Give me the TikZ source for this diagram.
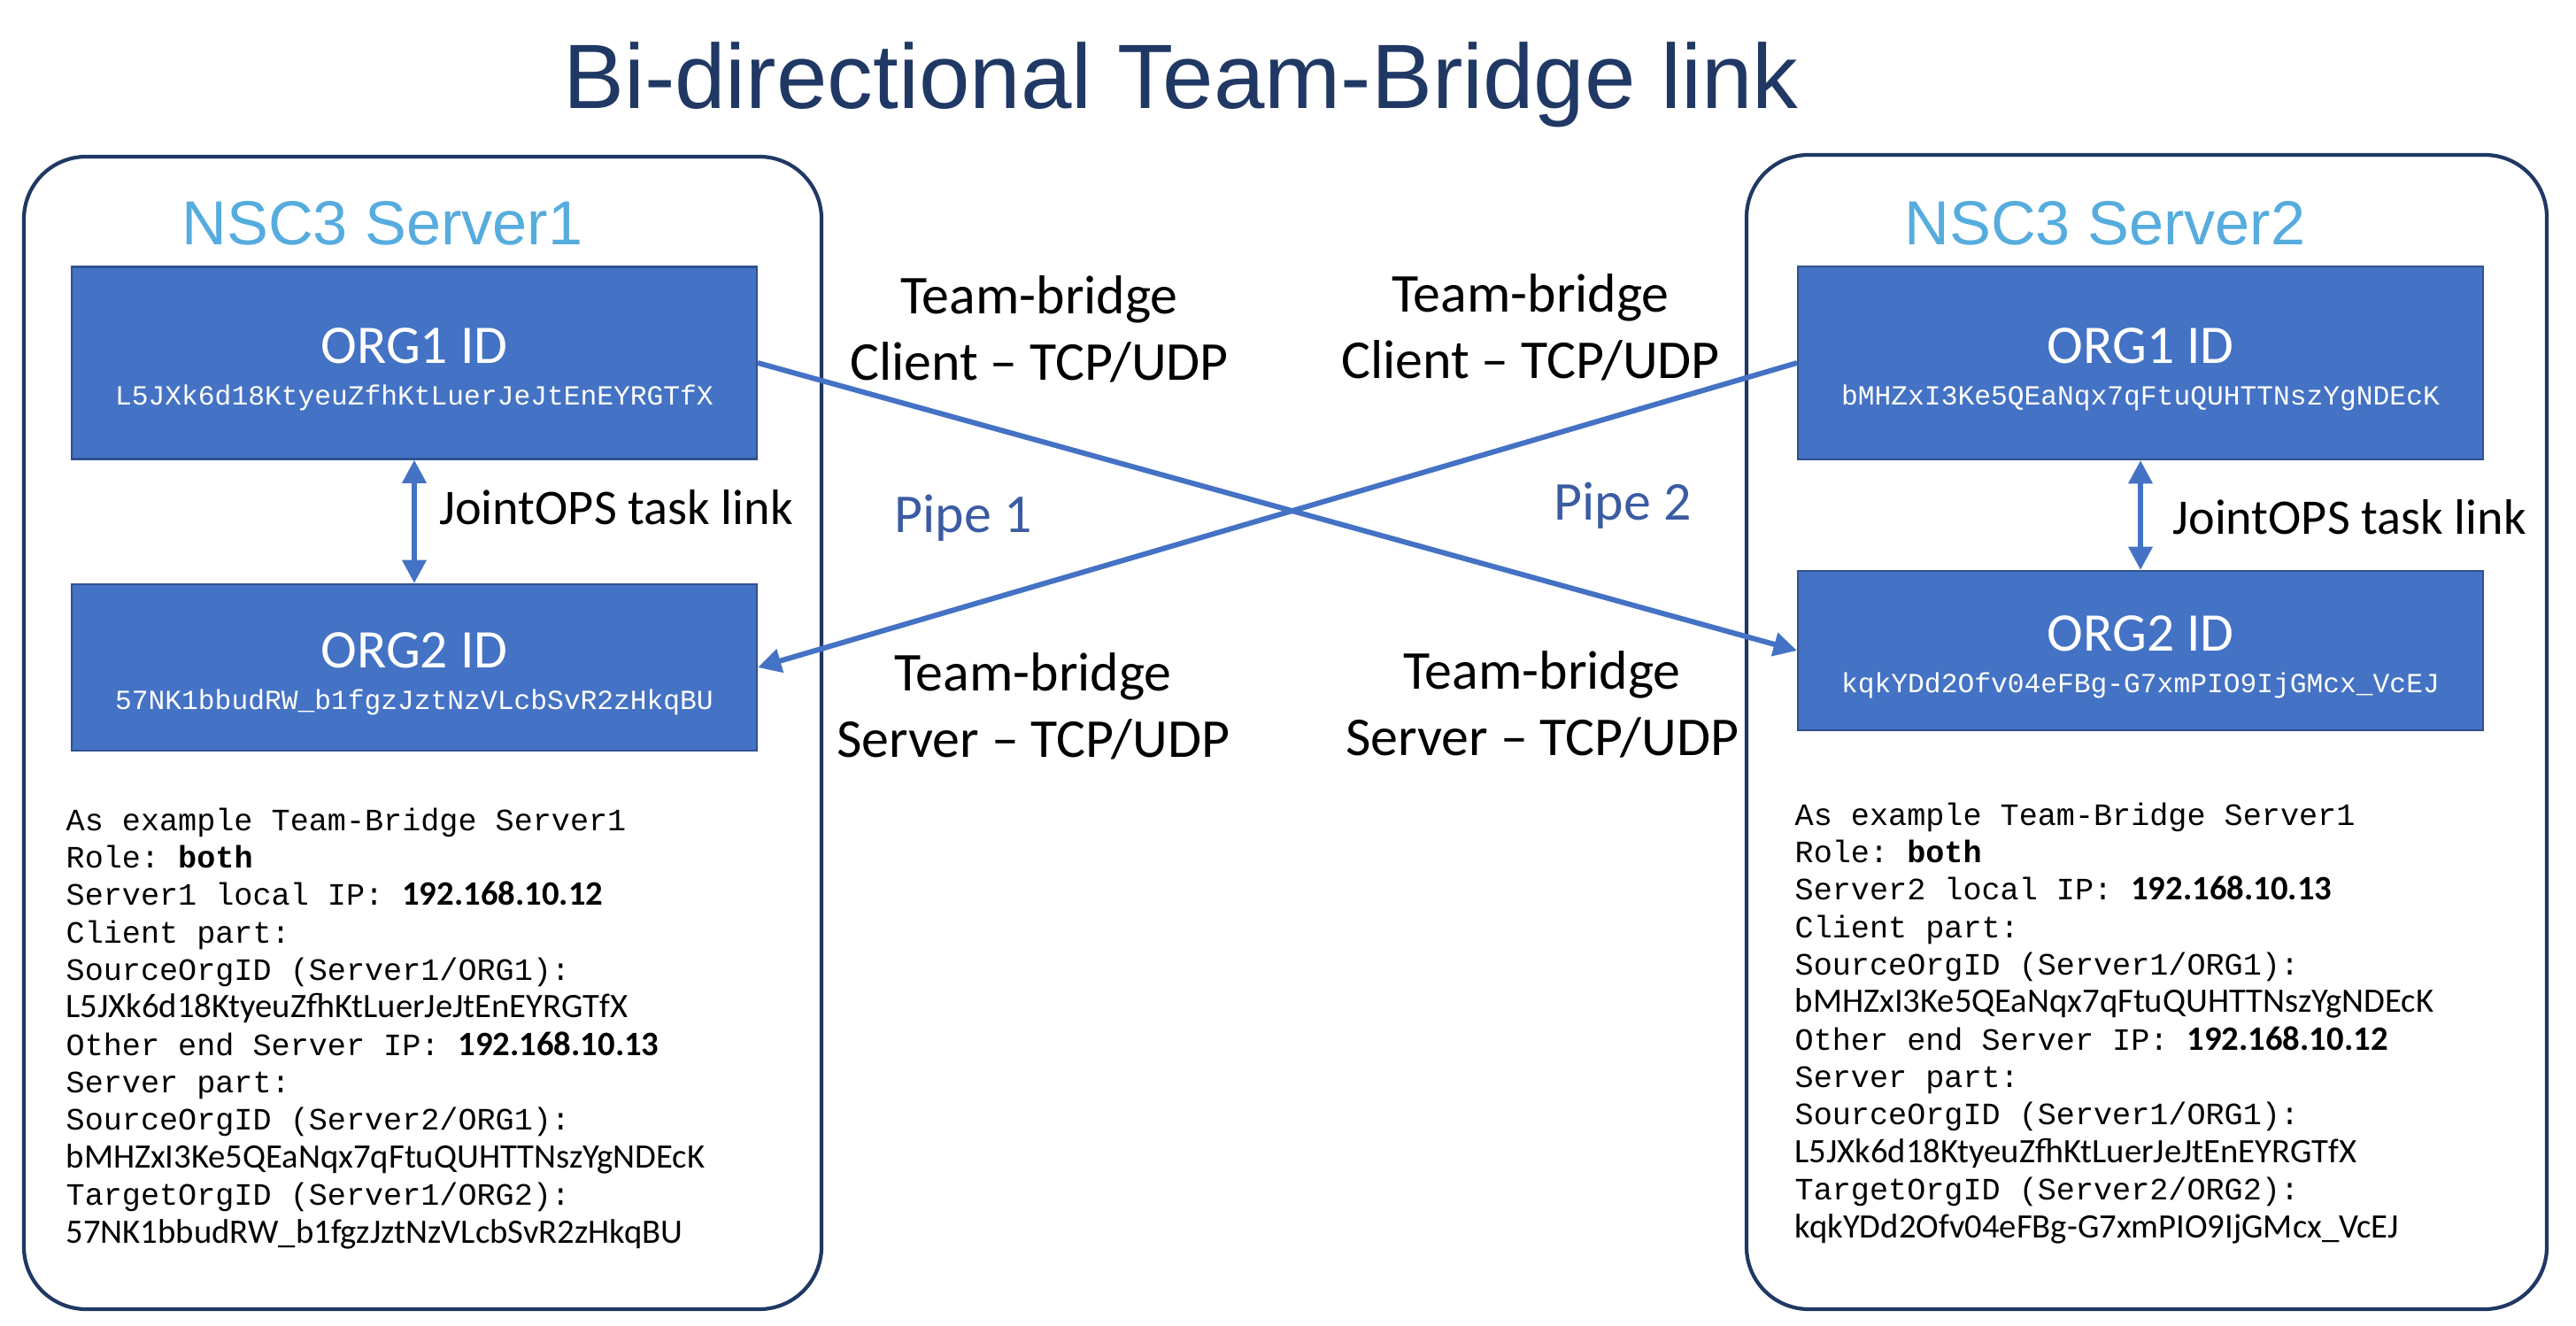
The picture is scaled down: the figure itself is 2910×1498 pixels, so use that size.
\documentclass[tikz,border=0pt]{standalone}
\usepackage{fontspec}
\setmainfont{Carlito}
\setmonofont{Liberation Mono}
\newfontfamily\arialfont{Liberation Sans}
\usepackage{tikz}
\usetikzlibrary{arrows.meta}
\definecolor{navy}{HTML}{203864}
\definecolor{orgblue}{HTML}{4472C4}
\definecolor{orgedge}{HTML}{2F528F}
\definecolor{skyblue}{HTML}{56ACDE}
\definecolor{pipeblue}{HTML}{3B5BA3}
\newcommand{\idmono}{\ttfamily\fontsize{8.9}{10}\selectfont}
\newcommand{\idsans}{\rmfamily\fontsize{11}{12.05}\selectfont}
\tikzset{
  server/.style={draw=navy, line width=1.2pt, rounded corners=20pt},
  srvname/.style={text=skyblue, font=\arialfont\fontsize{20}{24}\selectfont},
  orgbox/.style={draw=orgedge, line width=.6pt, fill=orgblue, text=white, minimum width=77.4mm, align=center, text height=29pt, font=\fontsize{17.5}{13.4}\selectfont},
  link/.style={orgblue, line width=1.7pt, >={Triangle[length=7.5pt,width=7.5pt]}},
  joint/.style={font=\fontsize{16}{19}\selectfont},
  side/.style={align=center, font=\fontsize{17.6}{21.5}\selectfont},
  pipe/.style={text=pipeblue, font=\fontsize{17.6}{21}\selectfont},
  notes/.style={align=left, inner sep=0, font=\ttfamily\fontsize{10}{12.05}\selectfont}
}

\begin{document}
\begin{tikzpicture}[x=0.1mm, y=-0.1mm]
\useasboundingbox (0,0) rectangle (2910,1498);
% title
\node[text=navy, font=\arialfont\fontsize{29.4}{35}\selectfont, anchor=base] (title) at (1334,123) {Bi-directional Team-Bridge link};
% server frames
\draw[server] (27,177) rectangle (928,1479);
\draw[server] (1973,175) rectangle (2877,1479);
\node[srvname, anchor=base] (s1name) at (432,277) {NSC3 Server1};
\node[srvname, anchor=base] (s2name) at (2378,277) {NSC3 Server2};
% org boxes
\node[orgbox, minimum height=21.7mm] (s1org1) at (468,410) {ORG1 ID\\{\idmono L5JXk6d18KtyeuZfhKtLuerJeJtEnEYRGTfX}};
\node[orgbox, minimum height=18.8mm] (s1org2) at (468,754) {ORG2 ID\\{\idmono 57NK1bbudRW\_b1fgzJztNzVLcbSvR2zHkqBU}};
\node[orgbox, minimum height=21.8mm] (s2org1) at (2418,410) {ORG1 ID\\{\idmono bMHZxI3Ke5QEaNqx7qFtuQUHTTNszYgNDEcK}};
\node[orgbox, minimum height=18mm] (s2org2) at (2418,735) {ORG2 ID\\{\idmono kqkYDd2Ofv04eFBg-G7xmPIO9IjGMcx\_VcEJ}};
% task links
\draw[link, <->] (s1org1) -- (s1org2);
\draw[link, <->] (s2org1) -- (s2org2);
\node[joint, anchor=base west] (s1joint) at (484,593) {JointOPS task link};
\node[joint, anchor=base west] (s2joint) at (2442,604) {JointOPS task link};
% pipes
\draw[link, ->] (s1org1.east) -- (s2org2.west);
\draw[link, ->] (s2org1.west) -- (s1org2.east);
\node[side] (c1) at (1174,372) {Team-bridge\\Client – TCP/UDP};
\node[side] (c2) at (1729,370) {Team-bridge\\Client – TCP/UDP};
\node[side] (sv1) at (1167,798) {Team-bridge\\Server – TCP/UDP};
\node[side] (sv2) at (1742,796) {Team-bridge\\Server – TCP/UDP};
\node[pipe, anchor=base] (pipe1) at (1088,602) {Pipe 1};
\node[pipe, anchor=base] (pipe2) at (1833,588) {Pipe 2};
% settings
\node[notes, anchor=north west] (s1notes) at (74,912) {As example Team-Bridge Server1\\
Role: \textbf{both}\\
Server1 local IP: {\idsans\bfseries 192.168.10.12}\\
Client part:\\
SourceOrgID (Server1/ORG1):\\
{\idsans L5JXk6d18KtyeuZfhKtLuerJeJtEnEYRGTfX}\\
Other end Server IP: {\idsans\bfseries 192.168.10.13}\\
Server part:\\
SourceOrgID (Server2/ORG1):\\
{\idsans bMHZxI3Ke5QEaNqx7qFtuQUHTTNszYgNDEcK}\\
TargetOrgID (Server1/ORG2):\\
{\idsans 57NK1bbudRW\_b1fgzJztNzVLcbSvR2zHkqBU}};
\node[notes, anchor=north west] (s2notes) at (2027,906) {As example Team-Bridge Server1\\
Role: \textbf{both}\\
Server2 local IP: {\idsans\bfseries 192.168.10.13}\\
Client part:\\
SourceOrgID (Server1/ORG1):\\
{\idsans bMHZxI3Ke5QEaNqx7qFtuQUHTTNszYgNDEcK}\\
Other end Server IP: {\idsans\bfseries 192.168.10.12}\\
Server part:\\
SourceOrgID (Server1/ORG1):\\
{\idsans L5JXk6d18KtyeuZfhKtLuerJeJtEnEYRGTfX}\\
TargetOrgID (Server2/ORG2):\\
{\idsans kqkYDd2Ofv04eFBg-G7xmPIO9IjGMcx\_VcEJ}};
\end{tikzpicture}
\end{document}
